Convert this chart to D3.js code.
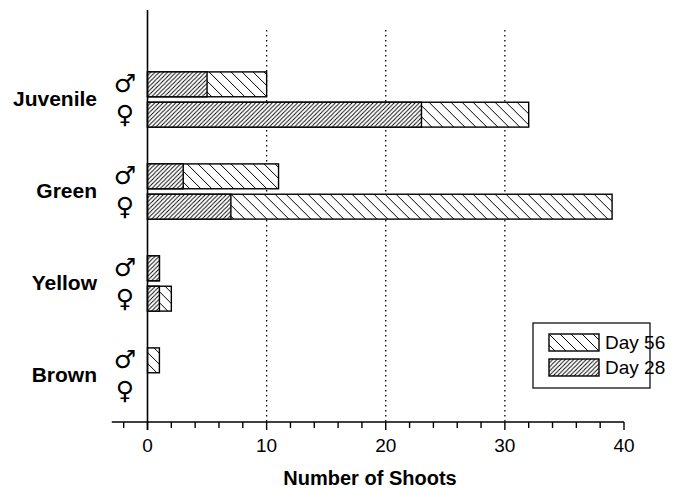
<!DOCTYPE html>
<html>
<head>
<meta charset="utf-8">
<script src="https://cdn.jsdelivr.net/npm/d3@7"></script>
<style>
    body { margin: 0; background: #fff; }
    svg text { font-family: "Liberation Sans", Arial, sans-serif; fill: #000; }
</style>
</head>
<body>
<svg id="chart" width="691" height="489"></svg>
<script>
// shoot counts per colour class
var categories = ['Juvenile', 'Green', 'Yellow', 'Brown'];
var sexes = ['\u2642', '\u2640'];
var day28Male = [5, 3, 1, 0];
var day28Female = [23, 7, 1, 0];
var day56Male = [10, 11, 1, 1];
var day56Female = [32, 39, 2, 0];
var xTicks = [0, 10, 20, 30, 40];
var seriesLabels = ['Day 56', 'Day 28'];

var svg = d3.select('#chart');

var x = d3.scaleLinear().domain([0, 40]).range([147.5, 624]);
var y = d3.scaleBand().domain(categories).range([53.5, 421.5])
    .paddingInner(0.4).paddingOuter(0.2);
var ySex = d3.scaleBand().domain(sexes).range([0, y.bandwidth()]).paddingInner(0.18);

// hatch patterns (white ground so day 28 hides day 56 underneath)
var defs = svg.append('defs');
var p28 = defs.append('pattern')
    .attr('id', 'hatch28')
    .attr('patternUnits', 'userSpaceOnUse')
    .attr('width', 4.2).attr('height', 4.2);
p28.append('rect').attr('width', 4.2).attr('height', 4.2).attr('fill', '#fff');
p28.append('path')
    .attr('d', 'M-1,5.2 L5.2,-1 M-2.1,2.1 L2.1,-2.1 M2.1,6.3 L6.3,2.1')
    .attr('stroke', '#000').attr('stroke-width', 0.9);
var p56 = defs.append('pattern')
    .attr('id', 'hatch56')
    .attr('patternUnits', 'userSpaceOnUse')
    .attr('width', 11).attr('height', 11);
p56.append('rect').attr('width', 11).attr('height', 11).attr('fill', '#fff');
p56.append('path')
    .attr('d', 'M-1,-1 L12,12 M-6.5,4.5 L1,12 M4.5,-6.5 L12,1')
    .attr('stroke', '#000').attr('stroke-width', 1);

// gridlines
svg.append('g').selectAll('line')
    .data([10, 20, 30])
    .enter().append('line')
    .attr('x1', function(d) { return x(d); })
    .attr('x2', function(d) { return x(d); })
    .attr('y1', 30).attr('y2', 422)
    .attr('stroke', '#000').attr('stroke-width', 1.3)
    .attr('stroke-dasharray', '1.5,3.5');

var rows = [];
categories.forEach(function(c, i) {
    rows.push({cat: c, sex: sexes[0], d28: day28Male[i], d56: day56Male[i]});
    rows.push({cat: c, sex: sexes[1], d28: day28Female[i], d56: day56Female[i]});
});

var bars = svg.append('g').selectAll('g')
    .data(rows)
    .enter().append('g')
    .attr('transform', function(d) { return 'translate(0,' + (y(d.cat) + ySex(d.sex)) + ')'; });

bars.filter(function(d) { return d.d56 > 0; })
    .append('rect')
    .attr('x', x(0))
    .attr('width', function(d) { return x(d.d56) - x(0); })
    .attr('height', ySex.bandwidth())
    .attr('fill', 'url(#hatch56)')
    .attr('stroke', '#000').attr('stroke-width', 1.4);

bars.filter(function(d) { return d.d28 > 0; })
    .append('rect')
    .attr('x', x(0))
    .attr('width', function(d) { return x(d.d28) - x(0); })
    .attr('height', ySex.bandwidth())
    .attr('fill', 'url(#hatch28)')
    .attr('stroke', '#000').attr('stroke-width', 1.4);

// x axis: line from -3, minor ticks every 2
var axisY = 422;
svg.append('line')
    .attr('x1', x(-3)).attr('x2', x(40))
    .attr('y1', axisY).attr('y2', axisY)
    .attr('stroke', '#000').attr('stroke-width', 1.6);
svg.append('g').selectAll('line')
    .data(d3.range(-2, 41, 2))
    .enter().append('line')
    .attr('x1', function(d) { return x(d); })
    .attr('x2', function(d) { return x(d); })
    .attr('y1', axisY).attr('y2', function(d) { return d % 10 === 0 ? axisY + 8 : axisY + 6; })
    .attr('stroke', '#000').attr('stroke-width', 1.4);
svg.append('g').selectAll('text')
    .data(xTicks)
    .enter().append('text')
    .attr('x', function(d) { return x(d); })
    .attr('y', 452)
    .attr('text-anchor', 'middle')
    .style('font-size', '19px')
    .text(function(d) { return d; });

svg.append('text')
    .attr('x', 370).attr('y', 485)
    .attr('text-anchor', 'middle')
    .style('font-size', '20px').style('font-weight', 'bold')
    .text('Number of Shoots');

// y axis
svg.append('line')
    .attr('x1', x(0)).attr('x2', x(0))
    .attr('y1', 10).attr('y2', 430)
    .attr('stroke', '#000').attr('stroke-width', 1.6);

var cats = svg.append('g').selectAll('g')
    .data(categories)
    .enter().append('g')
    .attr('transform', function(d) { return 'translate(0,' + y(d) + ')'; });
cats.append('text')
    .attr('x', 97)
    .attr('y', y.bandwidth() / 2 + 7)
    .attr('text-anchor', 'end')
    .style('font-size', '21px').style('font-weight', 'bold')
    .text(function(d) { return d; });
cats.selectAll('.sym')
    .data(sexes)
    .enter().append('text')
    .attr('class', 'sym')
    .attr('x', 125)
    .attr('y', function(d) { return ySex(d) + ySex.bandwidth() / 2 + 8; })
    .attr('text-anchor', 'middle')
    .style('font-family', '"DejaVu Sans", sans-serif')
    .style('font-size', '25px')
    .text(function(d) { return d; });

// legend
var legend = svg.append('g').attr('transform', 'translate(533,323)');
legend.append('rect')
    .attr('width', 117).attr('height', 65)
    .attr('fill', '#fff')
    .attr('stroke', '#222').attr('stroke-width', 1.4);
var items = legend.selectAll('.item')
    .data(seriesLabels)
    .enter().append('g')
    .attr('class', 'item')
    .attr('transform', function(d, i) { return 'translate(16,' + (11 + i * 25) + ')'; });
items.append('rect')
    .attr('width', 50).attr('height', 17)
    .attr('fill', function(d, i) { return i === 0 ? 'url(#hatch56)' : 'url(#hatch28)'; })
    .attr('stroke', '#000').attr('stroke-width', 1.4);
items.append('text')
    .attr('x', 56).attr('y', 15)
    .style('font-size', '19px')
    .text(function(d) { return d; });
</script>
</body>
</html>
